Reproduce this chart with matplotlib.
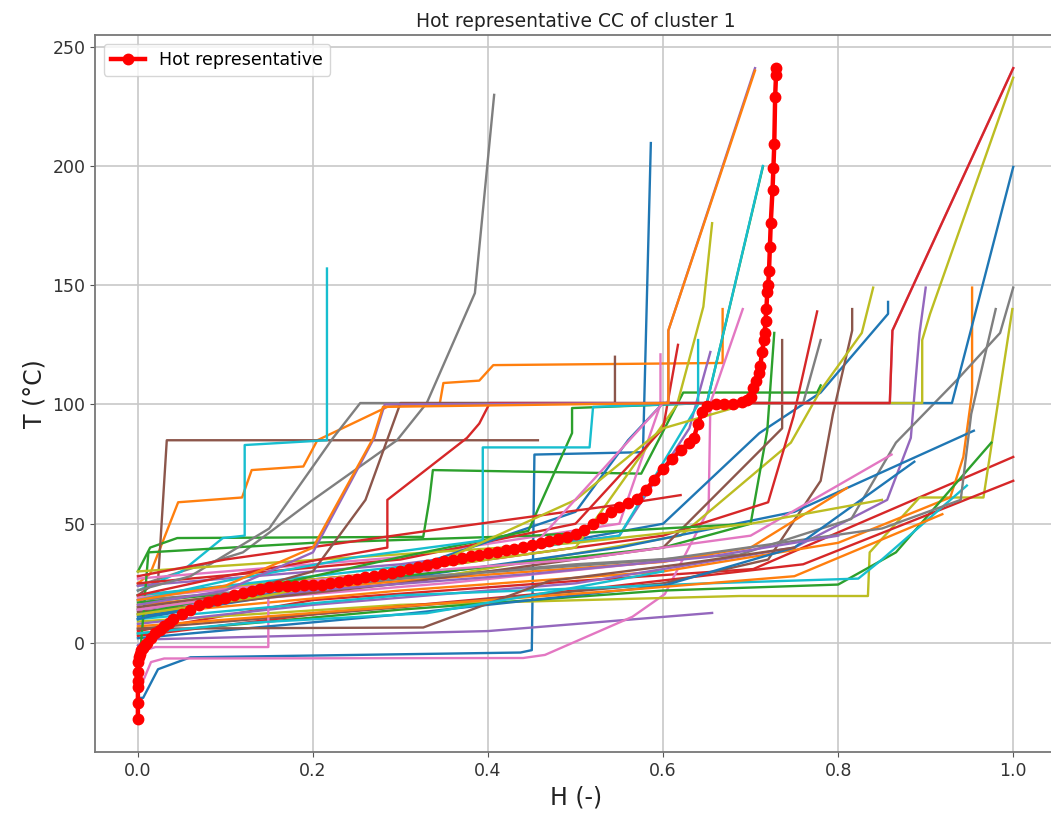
import numpy as np
import matplotlib
matplotlib.use("Agg")
import matplotlib.pyplot as plt

# representative hot composite curve (red, with markers)
rep_h = [0, 0, 0, 0, 0, 0, 0.001, 0.002, 0.004, 0.006, 0.008, 0.01, 0.015, 0.02, 0.025,
         0.03, 0.035, 0.04, 0.05, 0.06, 0.07, 0.08, 0.09, 0.1, 0.11, 0.12, 0.13, 0.14,
         0.15, 0.16, 0.17, 0.18, 0.19, 0.2, 0.21, 0.22, 0.23, 0.24, 0.25, 0.26, 0.27,
         0.28, 0.29, 0.3, 0.31, 0.32, 0.33, 0.34, 0.35, 0.36, 0.37, 0.38, 0.39, 0.4,
         0.41, 0.42, 0.43, 0.44, 0.45, 0.46, 0.47, 0.48, 0.49, 0.5, 0.51, 0.52, 0.53,
         0.54, 0.55, 0.56, 0.57, 0.58, 0.59, 0.6, 0.61, 0.62, 0.63, 0.635, 0.64, 0.645,
         0.65, 0.66, 0.67, 0.68, 0.69, 0.696, 0.7, 0.703, 0.706, 0.709, 0.711, 0.713,
         0.715, 0.716, 0.717, 0.718, 0.719, 0.72, 0.721, 0.722, 0.723, 0.725, 0.726,
         0.727, 0.728, 0.729, 0.729]
rep_t = [-32, -25, -18.5, -16, -12, -8, -6, -4.5, -3, -2, -1, 0, 2, 4, 5.5,
         7, 8.5, 10, 12, 14, 15.8, 17, 18, 19, 20, 21, 22, 22.8,
         23.4, 23.8, 24, 24.1, 24.2, 24.3, 24.5, 25, 25.6, 26.3, 27, 27.6, 28.2,
         28.8, 29.5, 30.2, 31.2, 32, 32.8, 33.5, 34.2, 35, 35.7, 36.3, 37, 37.6,
         38.2, 38.8, 39.5, 40.2, 41, 41.8, 42.6, 43.4, 44.3, 45.5, 47.5, 50, 52.5,
         55, 57, 58.5, 60.5, 64, 68.5, 73, 77, 81, 84, 86, 92, 97,
         99.4, 100, 100, 100.2, 101, 102, 103, 107, 110, 113, 116, 122,
         127, 130, 135, 140, 147, 150, 156, 166, 176, 190, 199,
         209, 229, 238, 241]

# cluster member curves: (H, T)
brown85_h = [0, 0.023, 0.033, 0.457]
brown85_t = [20, 26, 85, 85]
cyan157_h = [0, 0.05, 0.097, 0.122, 0.122, 0.216, 0.216]
cyan157_t = [22, 30, 44, 45, 83, 85, 157]
orange117_h = [0, 0.014, 0.046, 0.119, 0.13, 0.189, 0.205, 0.285, 0.345, 0.349, 0.39, 0.406, 0.668, 0.668]
orange117_t = [25, 29, 59, 61, 72.5, 74, 85, 99, 100.6, 109, 110, 116.5, 117.4, 140]
gray230_h = [0, 0.05, 0.12, 0.2, 0.296, 0.33, 0.385, 0.407]
gray230_t = [24, 30, 38, 60, 85, 100.6, 146.7, 229.8]
gray127_h = [0, 0.06, 0.15, 0.223, 0.254, 0.76, 0.78]
gray127_t = [22, 28, 48, 86, 100.6, 100.6, 127]
red241_h = [0, 0.1, 0.285, 0.285, 0.376, 0.39, 0.402, 0.859, 0.862, 1.0]
red241_t = [20, 28, 40, 60, 86, 92, 100.6, 100.6, 131, 241]
pink241_h = [0, 0.2, 0.45, 0.6, 0.859, 0.862, 1.0]
pink241_t = [14, 24, 40, 100.6, 100.6, 131, 241]
brown120_h = [0, 0.1, 0.2, 0.26, 0.3, 0.545, 0.545]
brown120_t = [15, 20, 30, 60, 100.6, 100.6, 120]
purple241_h = [0, 0.1, 0.2, 0.27, 0.282, 0.606, 0.606, 0.705]
purple241_t = [16, 22, 38, 86, 100, 100.6, 131, 241]
orange241_h = [0, 0.1, 0.2, 0.269, 0.28, 0.606, 0.606, 0.705]
orange241_t = [18, 24, 40, 86, 99, 100.6, 131, 240]
blue200_h = [0, 0.1, 0.3, 0.5, 0.56, 0.6, 0.93, 1.0]
blue200_t = [10, 18, 30, 55, 85, 100.6, 100.6, 199.6]
cyan200_h = [0, 0.1, 0.25, 0.394, 0.394, 0.516, 0.52, 0.65, 0.714]
cyan200_t = [18, 26, 36, 43, 82, 82, 99, 100.6, 200]
green200_h = [0, 0.15, 0.3, 0.446, 0.496, 0.496, 0.65, 0.714]
green200_t = [12, 24, 36, 47, 88, 98.5, 100.6, 199.6]
olive240_h = [0, 0.15, 0.35, 0.5, 0.6, 0.7, 0.896, 0.896, 0.905, 1.0]
olive240_t = [12, 20, 35, 60, 90, 100.6, 100.6, 127, 138, 237]
gray150_h = [0, 0.2, 0.5, 0.687, 0.815, 0.866, 0.935, 0.985, 1.0]
gray150_t = [14, 24, 33, 37, 52, 84, 110, 130, 149]
gray140_h = [0, 0.3, 0.6, 0.85, 0.94, 0.952, 0.98]
gray140_t = [18, 27, 35, 48, 60, 96, 140]
purple150_h = [0, 0.2, 0.5, 0.75, 0.856, 0.883, 0.893, 0.9]
purple150_t = [8, 16, 25, 40, 60, 86, 130, 149]
orange150_h = [0, 0.3, 0.6, 0.8, 0.928, 0.943, 0.953, 0.953]
orange150_t = [12, 22, 30, 42, 61, 78, 105, 149]
blue143_h = [0, 0.3, 0.6, 0.71, 0.78, 0.857, 0.857]
blue143_t = [10, 30, 50, 88, 105, 138, 143]
olive150_h = [0, 0.3, 0.62, 0.746, 0.78, 0.827, 0.84]
olive150_t = [15, 25, 45, 84, 106, 130, 149]
brown140_h = [0, 0.3, 0.6, 0.72, 0.78, 0.794, 0.816, 0.816]
brown140_t = [6, 15, 25, 35, 68, 96, 131, 140]
red137_h = [0, 0.3, 0.6, 0.72, 0.749, 0.776]
red137_t = [20, 30, 45, 59, 95, 139]
green129_h = [0, 0.3, 0.6, 0.7, 0.719, 0.727]
green129_t = [17, 28, 40, 50, 89, 130]
brown127_h = [0, 0.3, 0.6, 0.736, 0.736]
brown127_t = [13, 25, 40, 90, 127]
red125_h = [0, 0.3, 0.5, 0.6, 0.617]
red125_t = [25, 35, 50, 90, 125]
cyan127_h = [0, 0.3, 0.55, 0.64, 0.64]
cyan127_t = [20, 32, 45, 100, 127]
purple122_h = [0, 0.3, 0.55, 0.63, 0.654]
purple122_t = [24, 33, 45, 90, 122]
pink121_h = [0, 0.3, 0.55, 0.597, 0.597]
pink121_t = [27, 36, 50, 100, 121]
olive176_h = [0, 0.3, 0.5, 0.616, 0.646, 0.656]
olive176_t = [20, 30, 40, 100, 141, 176]
green105_h = [0, 0.014, 0.045, 0.326, 0.333, 0.337, 0.575, 0.623, 0.776, 0.78]
green105_t = [30, 40, 44, 44.5, 60, 72.5, 71, 105, 105, 108]
red80_h = [0, 0.2, 0.5, 0.703, 1.0]
red80_t = [5, 18, 26, 31, 78]
red70_h = [0, 0.2, 0.5, 0.76, 1.0]
red70_t = [3, 12, 22, 33, 68]
green86_h = [0, 0.3, 0.6, 0.8, 0.866, 0.975]
green86_t = [4, 14, 22, 24.5, 38, 84]
cyan66_h = [0, 0.3, 0.65, 0.823, 0.85, 0.947]
cyan66_t = [10, 20, 25, 27, 35, 66]
olive140_h = [0, 0.3, 0.687, 0.834, 0.836, 0.893, 0.966, 0.999]
olive140_t = [9, 16, 19.7, 19.7, 38, 61, 61, 140]
orange65_h = [0, 0.3, 0.6, 0.7, 0.81]
orange65_t = [16, 26, 34, 40, 65]
orange55_h = [0, 0.25, 0.55, 0.75, 0.919]
orange55_t = [7, 14, 22, 28, 54]
pink80_h = [0, 0.25, 0.5, 0.7, 0.861]
pink80_t = [19, 28, 35, 45, 79]
blue89_h = [0, 0.2, 0.55, 0.75, 0.955]
blue89_t = [11, 22, 40, 55, 89]
blue76_h = [0, 0.3, 0.6, 0.75, 0.887]
blue76_t = [2, 12, 24, 40, 76]
blue210_h = [0, 0.006, 0.023, 0.06, 0.437, 0.45, 0.453, 0.577, 0.586]
blue210_t = [-23, -23, -11, -6, -4, -3, 79, 80, 209.6]
pink140_h = [0, 0.007, 0.015, 0.03, 0.44, 0.465, 0.565, 0.602, 0.652, 0.654, 0.691]
pink140_t = [-18, -15, -8, -6.5, -6.3, -5, 11, 20.5, 56, 100.6, 140]
purple13_h = [0, 0.01, 0.4, 0.656]
purple13_t = [-1, 1.5, 5, 12.6]
pink35_h = [0, 0.02, 0.149, 0.149, 0.35, 0.62]
pink35_t = [-4, -1.7, -1.7, 19, 25, 35]
brown40_h = [0, 0.326, 0.47, 0.62, 0.75]
brown40_t = [6, 6.5, 26, 33, 40]
cyan30_h = [0, 0.124, 0.33, 0.45, 0.6]
cyan30_t = [4, 8.4, 12.5, 20, 30]
purple45_h = [0, 0.2, 0.45, 0.65, 0.8]
purple45_t = [14, 22, 29, 36, 45]
green45_h = [0, 0.003, 0.012, 0.2, 0.45, 0.7]
green45_t = [-8, -3, 38, 42, 45, 50]
olive60_h = [0, 0.25, 0.5, 0.7, 0.85]
olive60_t = [30, 36, 42, 50, 60]
red60_h = [0, 0.1, 0.35, 0.55, 0.62]
red60_t = [28, 35, 48, 58, 62]

curves = [
    (blue210_h, blue210_t, "C0"), (orange117_h, orange117_t, "C1"), (green105_h, green105_t, "C2"),
    (red80_h, red80_t, "C3"), (purple13_h, purple13_t, "C4"), (brown85_h, brown85_t, "C5"),
    (pink140_h, pink140_t, "C6"), (gray230_h, gray230_t, "C7"), (olive140_h, olive140_t, "C8"),
    (cyan157_h, cyan157_t, "C9"),
    (blue143_h, blue143_t, "C0"), (orange150_h, orange150_t, "C1"), (green86_h, green86_t, "C2"),
    (red70_h, red70_t, "C3"), (purple150_h, purple150_t, "C4"), (brown140_h, brown140_t, "C5"),
    (pink35_h, pink35_t, "C6"), (gray150_h, gray150_t, "C7"), (olive150_h, olive150_t, "C8"),
    (cyan66_h, cyan66_t, "C9"),
    (blue89_h, blue89_t, "C0"), (orange65_h, orange65_t, "C1"), (green129_h, green129_t, "C2"),
    (red137_h, red137_t, "C3"), (purple122_h, purple122_t, "C4"), (brown127_h, brown127_t, "C5"),
    (pink121_h, pink121_t, "C6"), (gray140_h, gray140_t, "C7"), (olive176_h, olive176_t, "C8"),
    (cyan127_h, cyan127_t, "C9"),
    (blue76_h, blue76_t, "C0"), (orange55_h, orange55_t, "C1"), (green45_h, green45_t, "C2"),
    (red125_h, red125_t, "C3"), (purple45_h, purple45_t, "C4"), (brown40_h, brown40_t, "C5"),
    (pink80_h, pink80_t, "C6"), (gray127_h, gray127_t, "C7"), (olive60_h, olive60_t, "C8"),
    (cyan30_h, cyan30_t, "C9"),
    (blue200_h, blue200_t, "C0"), (green200_h, green200_t, "C2"), (cyan200_h, cyan200_t, "C9"),
    (red60_h, red60_t, "C3"), (brown120_h, brown120_t, "C5"), (olive240_h, olive240_t, "C8"),
    (pink241_h, pink241_t, "C6"), (red241_h, red241_t, "C3"),
    (purple241_h, purple241_t, "C4"), (orange241_h, orange241_t, "C1"),
]

fig = plt.figure(figsize=(10.51, 8.14), dpi=100)
ax = fig.add_axes([95 / 1051, 62 / 814, (1057 - 95) / 1051, (752 - 35) / 814])

for h, t, c in curves:
    ax.plot(h, t, color=c, lw=1.7)

ax.plot(rep_h, rep_t, color="red", lw=3.2, marker="o", ms=7.5, label="Hot representative")

ax.set_xlim(-0.049, 1.05)
ax.set_ylim(-45.7, 254.9)
ax.grid(True, color="#c8c8c8", lw=1.2)
ax.set_axisbelow(True)
for s in ax.spines.values():
    s.set_color("#777777")
    s.set_linewidth(1.3)
ax.tick_params(labelsize=12.5, labelcolor="#333333", color="#555555")
ax.set_title("Hot representative CC of cluster 1", fontsize=13.5, color="#222222")
ax.set_xlabel("H (-)", fontsize=17, color="#222222")
ax.set_ylabel("T (°C)", fontsize=17, color="#222222")
ax.legend(loc="upper left", fontsize=12.5)

fig.savefig("out.png", dpi=100)
